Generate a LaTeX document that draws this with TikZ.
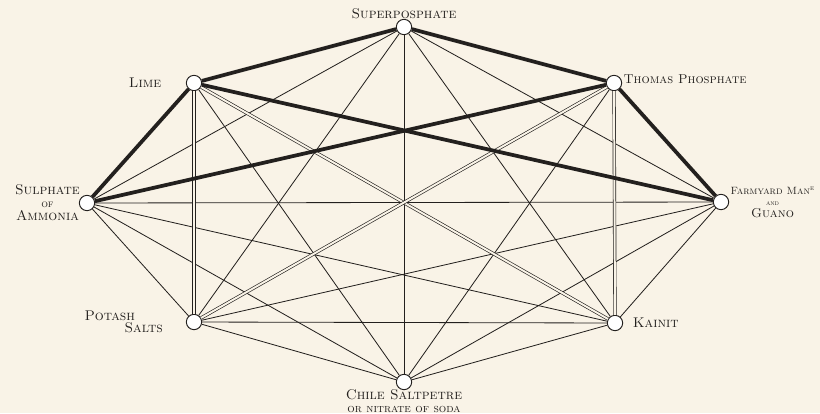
\documentclass[tikz,border=0pt]{standalone}
\usepackage{xcolor}
\usepackage{tikz}
\usetikzlibrary{positioning}
\definecolor{paper}{RGB}{249,243,231}
\definecolor{ink}{RGB}{35,32,30}

\begin{document}
\begin{tikzpicture}[
  x=0.03cm, y=-0.03cm,
  dot/.style={draw=ink, circle, fill=white, line width=0.8pt, minimum size=0.46cm, inner sep=0pt},
  lbl/.style={font=\fontsize{12}{13}\selectfont\scshape, text=ink, align=center, inner sep=1pt},
  never/.style={ink, line width=3.2pt},
  quick/.style={ink, double=paper, double distance=1.7pt, line width=0.55pt},
  free/.style={ink, line width=0.7pt},
]
\fill[paper] (0,0) rectangle (820,413);
\useasboundingbox (0,0) rectangle (820,413);

\node[dot] (sup) at (404,27) {};
\node[dot] (lime) at (194,83) {};
\node[dot] (thomas) at (614,83) {};
\node[dot] (amm) at (87,203) {};
\node[dot] (farm) at (721,202) {};
\node[dot] (pot) at (194,322) {};
\node[dot] (kai) at (615,323) {};
\node[dot] (chile) at (404,382) {};

% may be mixed at any time
\foreach \a/\b in {sup/amm, sup/farm, sup/pot, sup/kai, sup/chile,
                   amm/farm, amm/pot, amm/kai, amm/chile,
                   farm/pot, farm/kai, farm/chile,
                   pot/kai, pot/chile, kai/chile, lime/chile, thomas/chile}
  \draw[free] (\a) -- (\b);
% only just before use
\foreach \a/\b in {lime/pot, lime/kai, thomas/pot, thomas/kai}
  \draw[quick] (\a) -- (\b);
% never
\foreach \a/\b in {sup/lime, sup/thomas, lime/amm, lime/farm, thomas/amm, thomas/farm}
  \draw[never] (\a) -- (\b);

\node[lbl, above=-1pt of sup] (supl) {Superposphate};
\node[lbl, left=0.7cm of lime] (limel) {Lime};
\node[lbl, right=0pt of thomas, yshift=3pt, font=\fontsize{11}{12}\selectfont\scshape] (thomasl) {Thomas Phosphate};
\node[lbl, left=-2pt of amm] (amml) {Sulphate\\[-2pt]{\fontsize{9}{9}\selectfont of}\\[-2pt]Ammonia};
\node[lbl, right=0pt of farm, font=\fontsize{9}{10}\selectfont\scshape] (farml) {Farmyard Man\textsuperscript{e}\\[-1pt]{\fontsize{6}{6}\selectfont and}\\[0pt]{\fontsize{11}{11}\selectfont Guano}};
\node[lbl, left=0.65cm of pot, align=left] (potl) {Potash\\[-3pt]\hspace*{1.2cm}Salts};
\node[lbl, right=0.25cm of kai] (kail) {Kainit};
\node[lbl, below=-2pt of chile] (chilel) {Chile Saltpetre\\[-2pt]{\fontsize{10}{10}\selectfont or nitrate of soda}};
\end{tikzpicture}
\end{document}
